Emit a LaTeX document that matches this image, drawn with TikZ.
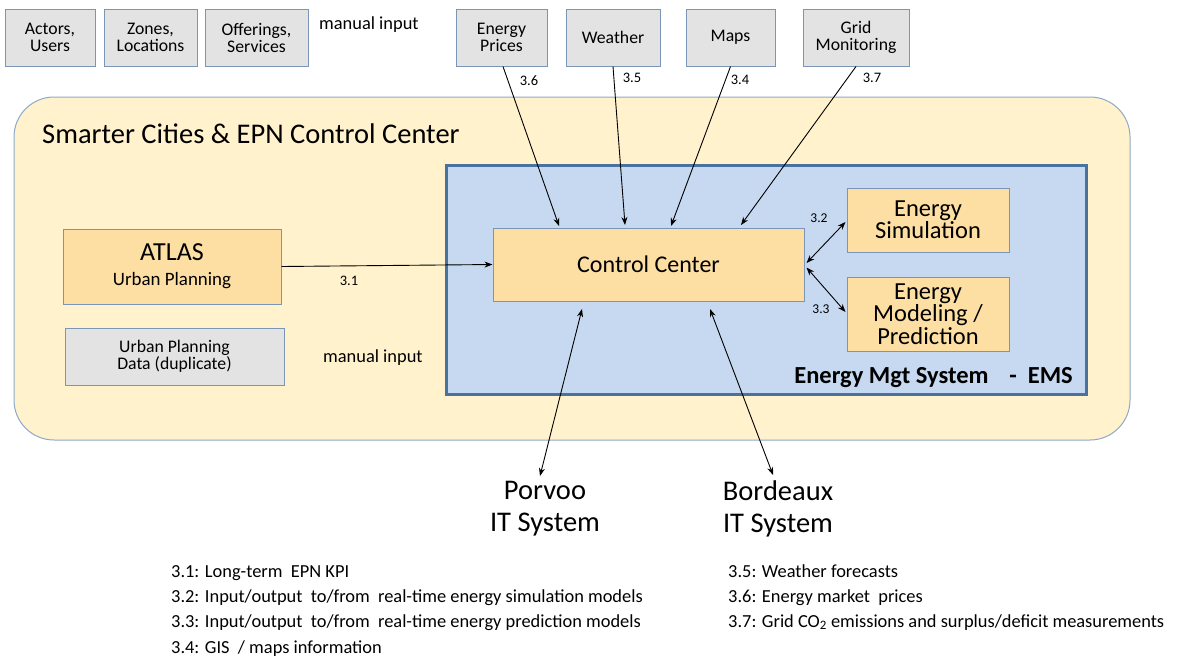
\documentclass[tikz,border=0pt]{standalone}
\usepackage{fontspec}
\setmainfont{Carlito}
\usetikzlibrary{arrows.meta,calc}
\definecolor{outerfill}{HTML}{FFF2CC}
\definecolor{outerline}{HTML}{8EA9C8}
\definecolor{boxgray}{HTML}{E3E3E3}
\definecolor{boxline}{HTML}{7A95B5}
\definecolor{orangefill}{HTML}{FDDFA4}
\definecolor{emsfill}{HTML}{C6D9F0}
\definecolor{emsline}{HTML}{4A72A0}
\begin{document}
\begin{tikzpicture}[x=1pt,y=-1pt,
  fs/.style={font=\fontsize{#1}{#1}\selectfont},
  graybox/.style={draw=boxline, fill=boxgray, line width=1pt, align=center, inner sep=0pt,
    font=\fontsize{17.7}{17}\selectfont},
  orangebox/.style={draw=boxline, fill=orangefill, line width=1pt, align=center, inner sep=0pt},
  conn/.style={line width=0.9pt, -{Stealth[length=8pt,width=6pt]}},
  dconn/.style={line width=0.9pt, {Stealth[length=8pt,width=6pt]}-{Stealth[length=8pt,width=6pt]}},
  numlbl/.style={font=\fontsize{14.5}{14}\selectfont, inner sep=0pt},
  legend/.style={anchor=base west, inner sep=0pt, font=\fontsize{18.4}{18}\selectfont}
]
\useasboundingbox (0,0) rectangle (1180,657);

% outer container
\node[draw=outerline, fill=outerfill, line width=1pt, rounded corners=40pt,
  minimum width=1116pt, minimum height=343pt, inner sep=0pt] (outer) at (572,268.5) {};
\node[anchor=west, inner sep=0pt, fs=28.5] (title) at (42,134) {Smarter Cities \& EPN Control Center};

% EMS
\node[draw=emsline, fill=emsfill, line width=3pt, minimum width=640pt, minimum height=229pt,
  inner sep=0pt] (ems) at (766,279.5) {};
\node[anchor=east, inner sep=0pt, font=\fontsize{24.5}{25}\selectfont\bfseries] (emslbl) at (1073,378)
  {Energy Mgt System\hspace{0.85em}-\hspace{0.45em}EMS};

% top input boxes
\node[graybox, minimum width=90pt, minimum height=57pt] (actors) at (50,37.5) {Actors,\\Users};
\node[graybox, minimum width=93pt, minimum height=57pt] (zones) at (150.5,37.5) {Zones,\\Locations};
\node[graybox, minimum width=103pt, minimum height=57pt] (offer) at (256.5,37.5) {Offerings,\\Services};
\node[anchor=west, inner sep=0pt, fs=18.4] (man1) at (319,25) {manual input};

\node[graybox, minimum width=91pt, minimum height=57pt] (ep) at (501.5,37.5) {Energy\\Prices};
\node[graybox, minimum width=94pt, minimum height=57pt] (wea) at (613,37.5) {Weather};
\node[graybox, minimum width=89pt, minimum height=57pt] (maps) at (730.5,37.5) {Maps};
\node[graybox, minimum width=106pt, minimum height=57pt] (grid) at (856,37.5) {Grid\\Monitoring};

% main boxes
\node[orangebox, minimum width=311pt, minimum height=73pt, fs=24] (cc) at (648.5,264.5) {Control Center};
\node[orangebox, minimum width=162pt, minimum height=64pt, font=\fontsize{24.5}{21}\selectfont] (sim) at (928,220) {Energy\\Simulation};
\node[orangebox, minimum width=162pt, minimum height=74pt, font=\fontsize{24.5}{21}\selectfont] (mod) at (928,314) {Energy\\Modeling /\\Prediction};
\node[orangebox, minimum width=218pt, minimum height=75pt, font=\fontsize{18.9}{22}\selectfont] (atlas) at (172,266.5)
  {{\fontsize{26}{24}\selectfont ATLAS}\\[3pt]Urban Planning};
\node[graybox, minimum width=219pt, minimum height=57pt] (upd) at (174.5,356.5) {Urban Planning\\Data (duplicate)};
\node[anchor=west, inner sep=0pt, fs=18.4] (man2) at (323,358) {manual input};

% IT systems
\node[align=center, inner sep=0pt, font=\fontsize{28.5}{32}\selectfont] (porvoo) at (545,509) {Porvoo\\IT System};
\node[align=center, inner sep=0pt, font=\fontsize{28.5}{32}\selectfont] (bord) at (778,509) {Bordeaux\\IT System};

% target coordinates
\coordinate (t6) at (559,226);
\coordinate (t5) at (625,225);
\coordinate (t4) at (671,226);
\coordinate (t7) at (741,225);
\coordinate (pv) at (582,309);
\coordinate (pvb) at (540,476);
\coordinate (bd) at (710,309);
\coordinate (bdb) at (773,475);

% connectors
\draw[conn] ($(ep.south)+(1.5,0)$) -- (t6);
\draw[conn] (wea.south) -- (t5);
\draw[conn] (maps.south) -- (t4);
\draw[conn] (grid.south) -- (t7);
\node[numlbl] (l36) at (529,81) {3.6};
\node[numlbl] (l35) at (632,78) {3.5};
\node[numlbl] (l34) at (740,80) {3.4};
\node[numlbl] (l37) at (872,78) {3.7};

\draw[conn] (atlas.east) -- (cc.west);
\node[numlbl] (l31) at (349,281) {3.1};

\draw[dconn] ($(cc.east)+(2,-1.5)$) -- ($(sim.west)+(-1,2)$);
\draw[dconn] ($(cc.east)+(2,3)$) -- ($(mod.west)+(-1,-2)$);
\node[numlbl, font=\fontsize{13.5}{13}\selectfont] (l32) at (819,218) {3.2};
\node[numlbl, font=\fontsize{13.5}{13}\selectfont] (l33) at (821,309) {3.3};

\draw[dconn] (pvb) -- (pv);
\draw[dconn] (bdb) -- (bd);

% legend
\node[legend] (k1) at (171,577) {3.1: Long-term\ \ EPN KPI};
\node[legend] (k2) at (171,602) {3.2: Input/output\ \ to/from\ \ real-time energy simulation models};
\node[legend] (k3) at (171,627) {3.3: Input/output\ \ to/from\ \ real-time energy prediction\ models};
\node[legend] (k4) at (171,653) {3.4: GIS\ \ / maps information};
\node[legend] (k5) at (728,577) {3.5: Weather\ forecasts};
\node[legend] (k6) at (728,602) {3.6: Energy market\ \ prices};
\node[legend] (k7) at (728,627) {3.7: Grid\ CO\textsubscript{2} emissions and surplus/deficit measurements};
\end{tikzpicture}
\end{document}
